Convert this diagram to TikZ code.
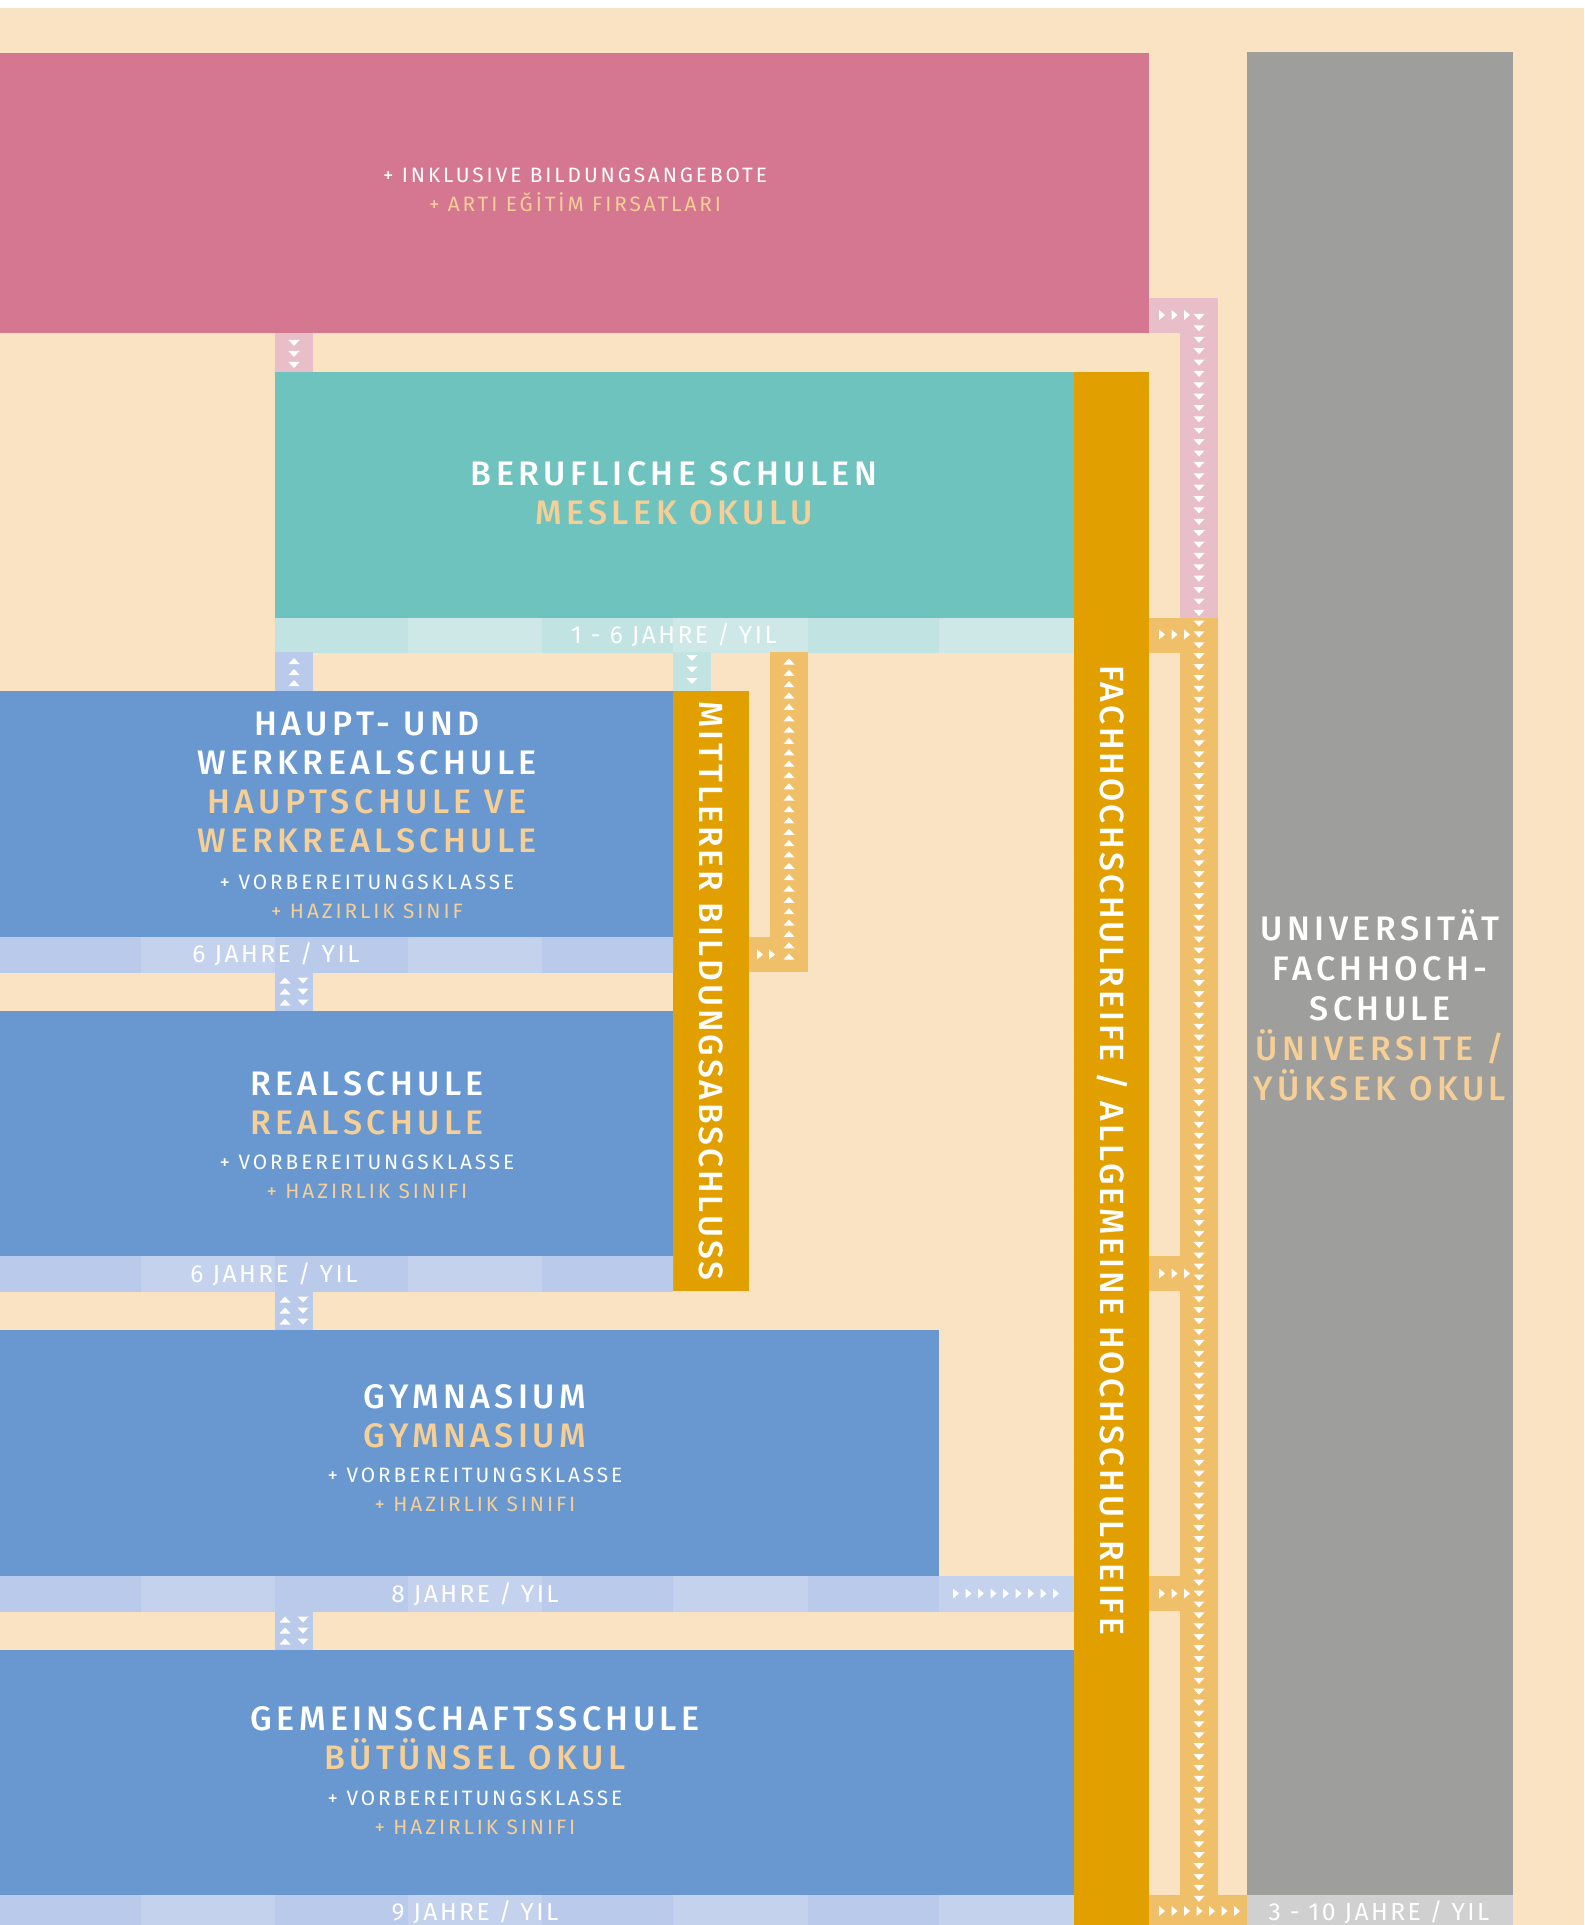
\documentclass[tikz,border=0pt]{standalone}
\usepackage{fontspec}
\setmainfont{Fira Sans}
\newfontfamily\dinfont[LetterSpace=13]{Fira Sans Medium}
\newfontfamily\dinsmall[LetterSpace=14]{Fira Sans}
\newfontfamily\dinyrs[LetterSpace=10]{Fira Sans}
\newfontfamily\dinvert[LetterSpace=9]{Fira Sans Medium}
\usetikzlibrary{positioning}

\definecolor{beige}{RGB}{249,227,195}
\definecolor{pinkbox}{RGB}{213,119,144}
\definecolor{pinklt}{RGB}{232,190,200}
\definecolor{tealbox}{RGB}{111,195,190}
\definecolor{tealA}{RGB}{193,227,225}
\definecolor{tealB}{RGB}{205,232,231}
\definecolor{bluebox}{RGB}{104,152,207}
\definecolor{blueA}{RGB}{185,202,234}
\definecolor{blueB}{RGB}{197,210,237}
\definecolor{orangebar}{RGB}{226,159,0}
\definecolor{orangelt}{RGB}{240,191,105}
\definecolor{graybox}{RGB}{158,158,156}
\definecolor{graylt}{RGB}{208,208,208}
\definecolor{peach}{RGB}{245,207,150}

\tikzset{
  blk/.style={inner sep=0pt, outer sep=0pt, anchor=north west},
  strip/.style={line width=19pt},
  hstrip/.style={line width=17.5pt},
  ttl/.style={align=center, inner sep=0pt, text=white,
    font=\dinfont\fontsize{17}{19.5}\selectfont},
  sub/.style={align=center, inner sep=0pt, text=white,
    font=\dinsmall\fontsize{10.4}{14.5}\selectfont},
  yrs/.style={inner sep=0pt, text=white,
    font=\dinyrs\fontsize{12.3}{14}\selectfont},
  vtxt/.style={inner sep=0pt, rotate=-90, text=white,
    font=\dinvert\fontsize{16.8}{19.5}\selectfont}
}

% little white arrow heads
\newcommand\dnT[2]{\fill[white] (#1-5.5,#2-3) -- (#1+5.5,#2-3) -- (#1,#2+3) -- cycle;}
\newcommand\upT[2]{\fill[white] (#1-5.5,#2+3) -- (#1+5.5,#2+3) -- (#1,#2-3) -- cycle;}
\newcommand\rtT[2]{\fill[white] (#1-3,#2-5) -- (#1-3,#2+5) -- (#1+3,#2) -- cycle;}

% striped year band inside a band node
\newcommand\bandfill[2]{%
  \begin{scope}
    \clip (#1.north west) rectangle (#1.south east);
    \foreach \xa/\xb [count=\i] in {0/141,141/275,275/408,408/542,542/673,673/808,808/939,939/1074}{
      \ifodd\i\colorlet{bandcol}{#2A}\else\colorlet{bandcol}{#2B}\fi
      \fill[bandcol] (\xa,0) rectangle (\xb,1925);
    }
  \end{scope}}

\begin{document}
\begin{tikzpicture}[x=0.5pt, y=-0.5pt]

    \useasboundingbox (0,0) rectangle (1584,1925);
    \fill[white] (0,0) rectangle (1584,8);
    \fill[beige] (0,8) rectangle (1584,1925);

    % columns for the connectors
    \coordinate (cL) at (294,0);
    \coordinate (cT) at (692,0);
    \coordinate (cM) at (789,0);
    \coordinate (cR) at (1199,0);
    \coordinate (rP) at (0,315.5);
    \coordinate (rTop) at (0,298);
    \coordinate (rEnd) at (0,1925);

    % boxes
    \node[blk, fill=pinkbox,
      minimum width=574.5pt,
      minimum height=140pt] (incl) at (0,53) {};

    \node[blk, fill=tealbox,
      minimum width=399.5pt,
      minimum height=123pt] (ber) at (275,372) {};
    \node[blk,
      minimum width=399.5pt,
      minimum height=17pt] (berband) at (275,618) {};

    \node[blk, fill=bluebox,
      minimum width=336.5pt,
      minimum height=123pt] (haupt) at (0,691) {};
    \node[blk,
      minimum width=336.5pt,
      minimum height=17.5pt] (hauptband) at (0,937) {};

    \node[blk, fill=bluebox,
      minimum width=336.5pt,
      minimum height=122.5pt] (real) at (0,1011) {};
    \node[blk,
      minimum width=336.5pt,
      minimum height=17.5pt] (realband) at (0,1256) {};

    \node[blk, fill=bluebox,
      minimum width=469.5pt,
      minimum height=123pt] (gym) at (0,1330) {};
    \node[blk,
      minimum width=537pt,
      minimum height=17.5pt] (gymband) at (0,1576) {};

    \node[blk, fill=bluebox,
      minimum width=537pt,
      minimum height=122.5pt] (gem) at (0,1650) {};
    \node[blk,
      minimum width=537pt,
      minimum height=15pt] (gemband) at (0,1895) {};

    \node[blk, fill=orangebar,
      minimum width=38pt,
      minimum height=300pt] (mbar) at (673,691) {};

    \node[blk, fill=orangebar,
      minimum width=37.5pt,
      minimum height=776.5pt] (fhr) at (1074,372) {};

    \node[blk, fill=graybox,
      minimum width=133pt,
      minimum height=921.5pt] (uni) at (1247,52) {};
    \node[blk, fill=graylt,
      minimum width=133pt,
      minimum height=15pt] (uniband) at (1247,1895) {};

    \bandfill{berband}{teal}
    \bandfill{hauptband}{blue}
    \bandfill{realband}{blue}
    \bandfill{gymband}{blue}
    \bandfill{gemband}{blue}

    % short links between the boxes
    \draw[strip, pinklt] (incl.south -| cL) -- (ber.north -| cL);
    \draw[strip, blueA] (berband.south -| cL) -- (haupt.north -| cL);
    \draw[strip, tealA] (berband.south -| cT) -- (haupt.north -| cT);
    \draw[strip, blueA] (hauptband.south -| cL) -- (real.north -| cL);
    \draw[strip, blueA] (realband.south -| cL) -- (gym.north -| cL);
    \draw[strip, blueA] (gymband.south -| cL) -- (gem.north -| cL);

    \foreach \y in {343,354,365} {\dnT{294}{\y}}
    \foreach \y in {661,672,683} {\upT{294}{\y}}
    \foreach \y in {658,669.5,681} {\dnT{692}{\y}}
    \foreach \t in {972,1291,1611} {
      \foreach \d in {8.5,19.5,30.5} {\upT{285}{\t+\d} \dnT{303}{\t+\d}}
    }

    % mittlerer abschluss back up to berufliche schulen
    \draw[hstrip, orangelt] (mbar.east |- hauptband.center) -- (cM |- hauptband.center);
    \draw[strip, orangelt] (cM |- berband.south) -- (cM |- hauptband.south);
    \foreach \k in {0,...,26} {\upT{789}{661.5+\k*11.35}}
    \rtT{760}{954.5} \rtT{772}{954.5}

    % right hand links to the university
    \draw[hstrip, pinklt] (incl.east |- rP) -- (cR |- rP);
    \draw[strip, pinklt] (cR |- rTop) -- (cR |- berband.north);
    \draw[strip, orangelt] (cR |- berband.north) -- (cR |- rEnd);
    \draw[hstrip, orangelt] (fhr.east |- berband.center) -- (cR |- berband.center);
    \draw[hstrip, orangelt] (fhr.east |- realband.center) -- (cR |- realband.center);
    \draw[hstrip, orangelt] (fhr.east |- gymband.center) -- (cR |- gymband.center);
    \draw[line width=15pt, orangelt] (fhr.east |- gemband.center) -- (uniband.west);

    \foreach \k in {0,...,26} {\dnT{1199}{317+\k*11.38}}
    \foreach \k in {0,...,117} {\dnT{1199}{623.5+\k*10.9}}
    \foreach \y in {315,634.5,1273.5,1593.5} {
      \foreach \x in {1162,1174.5,1187} {\rtT{\x}{\y}}
    }
    \foreach \k in {0,...,6} {\rtT{1162+\k*12.5}{1911}}
    \foreach \k in {0,...,8} {\rtT{956+\k*12.5}{1593.5}}

    % texts
    \node[sub] (incltxt) at (575,189.5)
      {+ INKLUSIVE BILDUNGSANGEBOTE\\ \color{peach}+ ARTI EĞİTİM FIRSATLARI};

    \node[ttl] (bertxt) at (674,493)
      {BERUFLICHE SCHULEN\\ \color{peach}MESLEK OKULU};
    \node[yrs] (beryrs) at (674,635) {1 - 6 JAHRE / YIL};

    \node[ttl] (haupttxt) at (367,782.5)
      {HAUPT- UND\\ WERKREALSCHULE\\ \color{peach}HAUPTSCHULE VE\\ \color{peach}WERKREALSCHULE};
    \node[sub] (hauptsub) at (367,896.5)
      {+ VORBEREITUNGSKLASSE\\ \color{peach}+ HAZIRLIK SINIF};
    \node[yrs] (hauptyrs) at (276,954.5) {6 JAHRE / YIL};

    \node[ttl] (realtxt) at (367,1103)
      {REALSCHULE\\ \color{peach}REALSCHULE};
    \node[sub] (realsub) at (367,1176.5)
      {+ VORBEREITUNGSKLASSE\\ \color{peach}+ HAZIRLIK SINIFI};
    \node[yrs] (realyrs) at (274,1274) {6 JAHRE / YIL};

    \node[ttl] (gymtxt) at (475,1416)
      {GYMNASIUM\\ \color{peach}GYMNASIUM};
    \node[sub] (gymsub) at (475,1489.5)
      {+ VORBEREITUNGSKLASSE\\ \color{peach}+ HAZIRLIK SINIFI};
    \node[yrs] (gymyrs) at (475,1594) {8 JAHRE / YIL};

    \node[ttl] (gemtxt) at (475,1738.5)
      {GEMEINSCHAFTSSCHULE\\ \color{peach}BÜTÜNSEL OKUL};
    \node[sub] (gemsub) at (475,1812.5)
      {+ VORBEREITUNGSKLASSE\\ \color{peach}+ HAZIRLIK SINIFI};
    \node[yrs] (gemyrs) at (475,1912) {9 JAHRE / YIL};

    \node[ttl, font=\dinfont\fontsize{17}{20}\selectfont] (unitxt) at (1380,1005)
      {UNIVERSITÄT\\ FACHHOCH-\\ SCHULE\\ \color{peach}ÜNIVERSITE /\\ \color{peach}YÜKSEK OKUL};
    \node[yrs] (uniyrs) at (1379,1912) {3 - 10 JAHRE / YIL};

    \node[vtxt] (mtxt) at (711,991) {MITTLERER BILDUNGSABSCHLUSS};
    \node[vtxt] (fhrtxt) at (1112,1150) {FACHHOCHSCHULREIFE / ALLGEMEINE HOCHSCHULREIFE};

\end{tikzpicture}
\end{document}
